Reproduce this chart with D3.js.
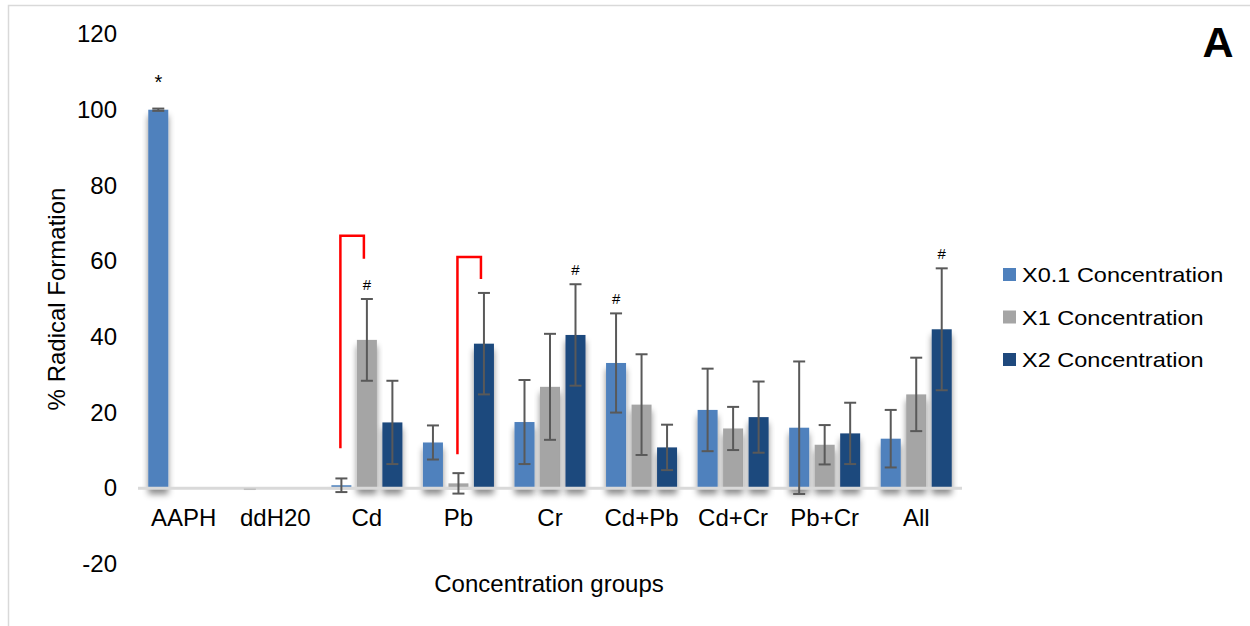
<!DOCTYPE html>
<html>
<head>
<meta charset="utf-8">
<script src="https://cdn.jsdelivr.net/npm/d3@7"></script>
<style>
  body { margin: 0; background: #fff; }
  svg { display: block; font-family: 'Liberation Sans', Arial, sans-serif; }
</style>
</head>
<body>
<svg id="chart" width="1250" height="626"></svg>
<script>
// Groups on the x axis and the three concentration series
const categories = ['AAPH', 'ddH20', 'Cd', 'Pb', 'Cr', 'Cd+Pb', 'Cd+Cr', 'Pb+Cr', 'All'];
const seriesNames = ['X0.1 Concentration', 'X1 Concentration', 'X2 Concentration'];
const seriesColors = ['#4f81bd', '#a5a5a5', '#1f497d'];

// Mean values (% radical formation)
const x01Values = [100, 0, 0.8, 12.1, 17.5, 33.1, 20.7, 16.0, 13.1];
const x1Values = [0, 0, 39.2, 1.3, 26.8, 22.1, 15.8, 11.5, 24.8];
const x2Values = [0, 0, 17.4, 38.2, 40.5, 10.8, 18.8, 14.5, 42.0];

// Error bar half-lengths (0 = no error bar drawn)
const x01Errors = [0.3, 0, 1.8, 4.5, 11.1, 13.1, 10.9, 17.5, 7.6];
const x1Errors = [0, 0, 10.8, 2.7, 14.0, 13.3, 5.7, 5.2, 9.7];
const x2Errors = [0, 0, 11.0, 13.4, 13.4, 6.0, 9.4, 8.1, 16.1];

const yTicks = [-20, 0, 20, 40, 60, 80, 100, 120];

// Significance symbols above some bars
const marks = [
  { cat: 'AAPH', series: 0, sym: '*' },
  { cat: 'Cd', series: 1, sym: '#' },
  { cat: 'Cr', series: 2, sym: '#' },
  { cat: 'Cd+Pb', series: 0, sym: '#' },
  { cat: 'All', series: 2, sym: '#' }
];

// Red comparison brackets (values in axis units)
const brackets = [
  { cat: 'Cd', from: 0, to: 1, top: 66.7, leftEnd: 10.6, rightEnd: 60.6 },
  { cat: 'Pb', from: 1, to: 2, top: 61.1, leftEnd: 9.0, rightEnd: 55.3 }
];

const allValues = [x01Values, x1Values, x2Values];
const allErrors = [x01Errors, x1Errors, x2Errors];

const svg = d3.select('#chart');

// light frame round the chart
svg.append('rect')
  .attr('x', 8.5).attr('y', 5.5)
  .attr('width', 1260).attr('height', 640)
  .attr('fill', 'none')
  .attr('stroke', '#d9d9d9')
  .attr('stroke-width', 1.5);

// soft shadow like the office chart
const defs = svg.append('defs');
defs.append('filter')
  .attr('id', 'shadow')
  .attr('x', '-30%').attr('y', '-10%')
  .attr('width', '160%').attr('height', '140%')
  .append('feDropShadow')
  .attr('dx', 0).attr('dy', 6)
  .attr('stdDeviation', 3)
  .attr('flood-color', '#000')
  .attr('flood-opacity', 0.45);

// Scales
const x = d3.scaleBand().domain(categories).range([138, 962]);
const bw = x.bandwidth();
const xSub = d3.scaleBand()
  .domain(d3.range(seriesNames.length))
  .range([bw / 2 - 35.5, bw / 2 + 35.5])
  .paddingInner(0.2157);
const y = d3.scaleLinear().domain([-20, 120]).range([564, 34]);

// Y axis: labels only, plain hyphen for negatives
const yAxis = d3.axisLeft(y)
  .tickValues(yTicks)
  .tickFormat((d) => String(d))
  .tickSize(0)
  .tickPadding(0);
const gy = svg.append('g').attr('transform', 'translate(117,0)').call(yAxis);
gy.select('.domain').remove();
gy.selectAll('text')
  .attr('font-size', 24)
  .attr('font-family', null)
  .attr('fill', '#000');

// Bars
const barData = [];
categories.forEach((c, i) => {
  seriesNames.forEach((s, j) => {
    barData.push({ cat: c, series: j, value: allValues[j][i], err: allErrors[j][i] });
  });
});

svg.append('g')
  .selectAll('rect')
  .data(barData.filter((d) => d.value !== 0))
  .enter()
  .append('rect')
  .attr('x', (d) => x(d.cat) + xSub(d.series))
  .attr('width', xSub.bandwidth())
  .attr('y', (d) => y(Math.max(0, d.value)))
  .attr('height', (d) => Math.abs(y(d.value) - y(0)))
  .attr('fill', (d) => seriesColors[d.series])
  .attr('filter', 'url(#shadow)');

// Zero line
svg.append('line')
  .attr('x1', 138).attr('x2', 962)
  .attr('y1', y(0)).attr('y2', y(0))
  .attr('stroke', '#d9d9d9')
  .attr('stroke-width', 3);

// small grey dash for ddH20 (value is about zero)
svg.append('line')
  .attr('x1', x('ddH20') + xSub(0) + 4).attr('x2', x('ddH20') + xSub(0) + 16)
  .attr('y1', y(0) + 1).attr('y2', y(0) + 1)
  .attr('stroke', '#bfbfbf')
  .attr('stroke-width', 1.5);

// Error bars
const errG = svg.append('g')
  .attr('stroke', '#595959')
  .attr('stroke-width', 2);
const cx = (d) => x(d.cat) + xSub(d.series) + xSub.bandwidth() / 2;
barData.filter((d) => d.err > 0).forEach((d) => {
  const top = y(d.value + d.err);
  const bot = y(d.value - d.err);
  errG.append('line').attr('x1', cx(d)).attr('x2', cx(d)).attr('y1', top).attr('y2', bot);
  errG.append('line').attr('x1', cx(d) - 6).attr('x2', cx(d) + 6).attr('y1', top).attr('y2', top);
  errG.append('line').attr('x1', cx(d) - 6).attr('x2', cx(d) + 6).attr('y1', bot).attr('y2', bot);
});

// Significance symbols
svg.append('g')
  .selectAll('text')
  .data(marks)
  .enter()
  .append('text')
  .attr('x', (m) => x(m.cat) + xSub(m.series) + xSub.bandwidth() / 2)
  .attr('y', (m) => {
    const i = categories.indexOf(m.cat);
    const top = y(allValues[m.series][i] + allErrors[m.series][i]);
    return m.sym === '*' ? top - 20 : top - 9;
  })
  .attr('text-anchor', 'middle')
  .attr('font-size', (m) => (m.sym === '*' ? 20 : 15))
  .text((m) => m.sym);

// Red brackets
svg.append('g')
  .selectAll('path')
  .data(brackets)
  .enter()
  .append('path')
  .attr('d', (b) => {
    const x1 = x(b.cat) + xSub(b.from) + xSub.bandwidth() / 2 - 1;
    const x2 = x(b.cat) + xSub(b.to) + xSub.bandwidth() / 2 - 3;
    return `M${x1},${y(b.leftEnd)}V${y(b.top)}H${x2}V${y(b.rightEnd)}`;
  })
  .attr('fill', 'none')
  .attr('stroke', '#ff0000')
  .attr('stroke-width', 2.5);

// Category labels
svg.append('g')
  .selectAll('text')
  .data(categories)
  .enter()
  .append('text')
  .attr('x', (c) => x(c) + bw / 2)
  .attr('y', 526)
  .attr('text-anchor', 'middle')
  .attr('font-size', 24)
  .text((c) => c);

// Axis titles
svg.append('text')
  .attr('x', 549).attr('y', 592)
  .attr('text-anchor', 'middle')
  .attr('font-size', 24)
  .text('Concentration groups');

svg.append('text')
  .attr('transform', 'translate(65,299) rotate(-90)')
  .attr('text-anchor', 'middle')
  .attr('font-size', 24)
  .text('% Radical Formation');

// Panel letter
svg.append('text')
  .attr('x', 1218).attr('y', 57)
  .attr('text-anchor', 'middle')
  .attr('font-size', 43)
  .attr('font-weight', 'bold')
  .text('A');

// Legend
const legend = svg.append('g')
  .selectAll('g')
  .data(seriesNames)
  .enter()
  .append('g')
  .attr('transform', (s, i) => `translate(1003,${282 + i * 42.5})`);
legend.append('rect')
  .attr('x', 0).attr('y', -14)
  .attr('width', 13).attr('height', 13)
  .attr('fill', (s, i) => seriesColors[i]);
legend.append('text')
  .attr('transform', 'translate(19,0) scale(1.12,1)')
  .attr('font-size', 21)
  .text((s) => s);
</script>
</body>
</html>
